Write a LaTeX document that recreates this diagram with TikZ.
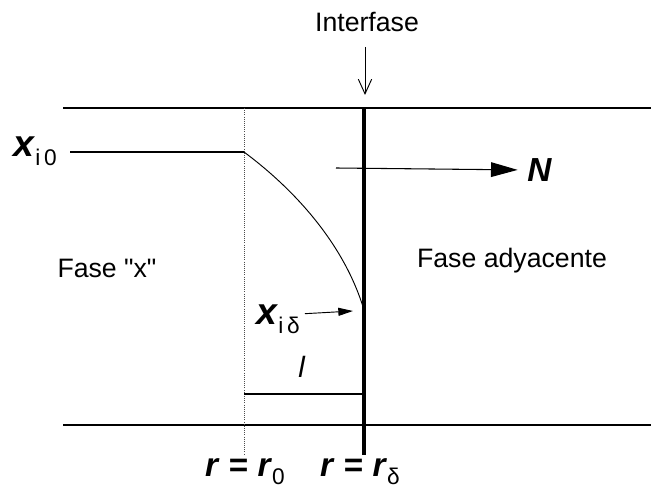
\documentclass[tikz,border=0pt]{standalone}
\usepackage{fontspec}
\setmainfont{Liberation Sans}[Ligatures=TeXOff]
\usetikzlibrary{arrows.meta}

\newcommand{\bvar}[1]{\textbf{\textit{#1}}}
\newcommand{\lsub}[1]{\raisebox{-0.45ex}{\fontsize{17}{17}\selectfont #1}}

\begin{document}
\begin{tikzpicture}[x=0.75pt,y=-0.75pt]
\useasboundingbox (0,0) rectangle (651,488);
\tikzset{lbl/.style={font=\fontsize{20}{22}\selectfont, inner sep=0pt},
  mvar/.style={font=\fontsize{25}{26}\selectfont, inner sep=0pt},
  wall/.style={line width=1.5pt}}
% Walls of the film
\draw[wall] (63,108) -- (651,108);
\draw[wall] (63,425) -- (651,425);
% Film edge and interface
\coordinate (rtop) at (244,108);
\coordinate (rbot) at (244,455);
\coordinate (itop) at (364,108);
\coordinate (ibot) at (364,455);
\draw[densely dotted, line width=0.6pt, black!70] (rtop) -- (rbot);
\draw[line width=3pt] (itop) -- (ibot);
% Profile
\node[mvar, font=\fontsize{28}{28}\selectfont, anchor=base west] (xio) at (13,157) {\bvar{x}\lsub{i\,0}};
\coordinate (prof0) at (244,152);
\coordinate (profd) at (364,310);
\draw[line width=1pt] (70,152) -- (prof0);
\draw[line width=0.7pt] (prof0) .. controls (275,175) and (340,230) .. (profd);
\node[mvar, font=\fontsize{28}{28}\selectfont, anchor=base west] (xid) at (256,325) {\bvar{x}\lsub{i\,δ}};
\coordinate (xidtip) at (353,311);
\draw[line width=0.7pt, -{Triangle[length=11pt,width=6pt]}] (xid.east) ++(5,-6) -- (xidtip);
% Flux
\coordinate (nstart) at (336,168);
\node[mvar, anchor=west] (flux) at (527,170) {\bvar{N}};
\draw[line width=0.8pt, shorten >=7pt, -{Triangle[length=20pt,width=11pt]}] (nstart) -- (flux.west);
% Interface label
\node[lbl] (intf) at (367,22) {Interfase};
\coordinate (intftip) at (365,95);
\draw[line width=0.7pt, -{Straight Barb[length=11pt,width=10pt]}] (365,47) -- (intftip);
% Phases
\node[lbl] (fasex) at (107,268) {Fase "x"};
\node[lbl] (fasead) at (512,261) {Fase adyacente};
% Film thickness
\coordinate (lleft) at (244,394);
\coordinate (lright) at (364,394);
\draw[line width=0.8pt] (lleft) -- (lright);
\node[lbl, font=\fontsize{22}{24}\selectfont] (lthk) at (302,367) {\textit{l}};
% Positions
\node[mvar, anchor=base] (rzero) at (245,477) {\bvar{r} \textbf{=} \bvar{r}\lsub{0}};
\node[mvar, anchor=base] (rdelta) at (360,477) {\bvar{r} \textbf{=} \bvar{r}\lsub{δ}};
\end{tikzpicture}
\end{document}
